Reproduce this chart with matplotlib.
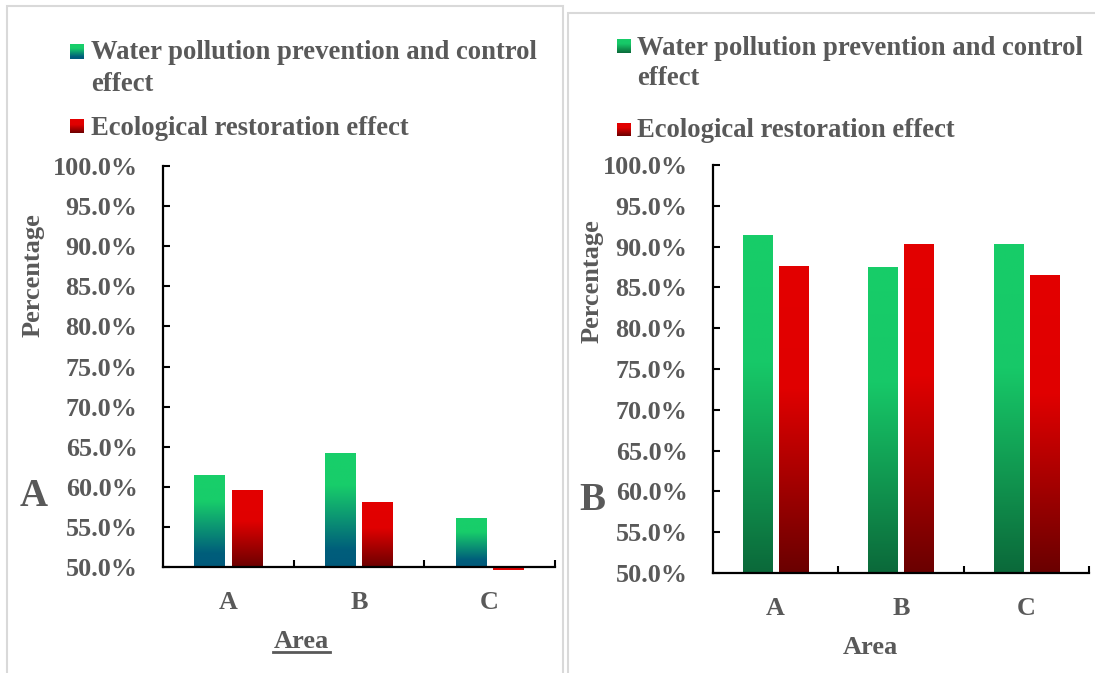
import matplotlib
matplotlib.use("Agg")
import matplotlib.pyplot as plt
import numpy as np
from matplotlib.colors import LinearSegmentedColormap
from matplotlib.patches import Rectangle
from matplotlib.lines import Line2D

plt.rcParams['font.family'] = ['Liberation Serif', 'DejaVu Serif']
plt.rcParams['font.weight'] = 'bold'

# data (percent)
areas = ['A', 'B', 'C']
water_left = [61.4, 64.2, 56.0]
eco_left = [59.5, 58.1, 49.6]
water_right = [91.3, 87.4, 90.3]
eco_right = [87.6, 90.3, 86.5]
ytick_vals = [50.0, 55.0, 60.0, 65.0, 70.0, 75.0, 80.0, 85.0, 90.0, 95.0, 100.0]
legend_labels = ['Water pollution prevention and control', 'effect',
                 'Ecological restoration effect']

W, H = 1095, 673
TXT = '#595959'

# gradient colormaps (bottom -> top)
green_teal = LinearSegmentedColormap.from_list(
    'gt', [(0, '#005a7b'), (0.15, '#005e7b'), (0.72, '#18cd6a'), (1, '#18cf6a')])
red_dark_l = LinearSegmentedColormap.from_list(
    'rl', [(0, '#6c0000'), (0.6, '#e00000'), (1, '#e30000')])
green_dark = LinearSegmentedColormap.from_list(
    'gd', [(0, '#0b693a'), (0.62, '#17c868'), (1, '#17cd69')])
red_dark_r = LinearSegmentedColormap.from_list(
    'rr', [(0, '#6a0000'), (0.6, '#e00000'), (1, '#e30000')])

grad = np.linspace(0, 1, 256).reshape(-1, 1)


def px_axes(x0, y0, x1, y1):
    # pixel box (top-left origin) -> figure axes
    return fig.add_axes([x0 / W, 1 - y1 / H, (x1 - x0) / W, (y1 - y0) / H])


def grad_bar(ax, x, val, width, cmap, base=50.0):
    bar = ax.bar(x, val - base, width, bottom=base, color='none',
                 edgecolor='none', clip_on=False)[0]
    x0 = bar.get_x()
    x1 = x0 + bar.get_width()
    if val >= base:
        data = grad
    else:
        data = np.ones_like(grad)
    im = ax.imshow(data, extent=[x0, x1, min(base, val), max(base, val)],
                   origin='lower', cmap=cmap, vmin=0, vmax=1,
                   aspect='auto', zorder=2)
    im.set_clip_on(False)


def make_panel(box, water, eco, cmap_w, cmap_r):
    ax = px_axes(*box)
    off = 0.143
    bw = 0.235
    for i in range(len(areas)):
        grad_bar(ax, i - off, water[i], bw, cmap_w)
        grad_bar(ax, i + off, eco[i], bw, cmap_r)
    ax.set_xlim(-0.5, 2.5)
    ax.set_ylim(50, 100)
    ax.set_yticks(ytick_vals)
    ax.set_yticklabels(['%.1f%%' % v for v in ytick_vals])
    ax.set_xticks(range(len(areas)))
    ax.set_xticklabels(areas)
    ax.set_xticks([0.5, 1.5, 2.5], minor=True)
    for s in ['top', 'right']:
        ax.spines[s].set_visible(False)
    for s in ['left', 'bottom']:
        ax.spines[s].set_linewidth(1.6)
        ax.spines[s].set_color('black')
    ax.tick_params(axis='y', direction='in', length=5, width=1.5,
                   labelsize=18.8, labelcolor=TXT, pad=18.3)
    ax.tick_params(axis='x', which='major', length=0, labelsize=18.8,
                   labelcolor=TXT, pad=17.5)
    ax.tick_params(axis='x', which='minor', direction='in', length=5, width=1.5)
    ax.set_zorder(1)
    return ax


def legend_block(x_sq, x_txt, sq1, sq2, base1, base2, base3, cmap_w, cmap_r):
    for (y0, y1), cm in [(sq1, cmap_w), (sq2, cmap_r)]:
        lax = px_axes(x_sq, y0, x_sq + 14, y1)
        lax.imshow(grad, origin='lower', cmap=cm, aspect='auto', extent=[0, 1, 0, 1])
        lax.axis('off')
    for txt, b in zip(legend_labels, [base1, base2, base3]):
        fig.text(x_txt / W, 1 - b / H, txt, fontsize=19.2, color=TXT,
                 ha='left', va='baseline')


fig = plt.figure(figsize=(W / 100, H / 100), dpi=100)

# panel frames
fig.add_artist(Rectangle((7 / W, -0.02), (563 - 7) / W, 1.02 - 6 / H,
                         transform=fig.transFigure, fill=False,
                         edgecolor='#d9d9d9', linewidth=1.5))
fig.add_artist(Rectangle((568 / W, -0.02), 0.6, 1.02 - 13 / H,
                         transform=fig.transFigure, fill=False,
                         edgecolor='#d9d9d9', linewidth=1.5))

make_panel((163, 166, 555, 567), water_left, eco_left, green_teal, red_dark_l)
make_panel((713, 165, 1089, 573), water_right, eco_right, green_dark, red_dark_r)

legend_block(70, 91, (44, 59), (119, 133), 59, 91, 135, green_teal, red_dark_l)
legend_block(617, 637, (39, 53), (123, 136), 55, 85, 137, green_dark, red_dark_r)

# axis titles and panel letters
fig.text(33 / W, 1 - 275 / H, 'Percentage', rotation=90, fontsize=19,
         color=TXT, ha='center', va='center')
fig.text(592 / W, 1 - 281 / H, 'Percentage', rotation=90, fontsize=19,
         color=TXT, ha='center', va='center')
fig.text(301.5 / W, 1 - 641 / H, 'Area', fontsize=19, color=TXT,
         ha='center', va='center')
fig.add_artist(Line2D([273 / W, 330 / W], [1 - 651.5 / H, 1 - 651.5 / H],
                      transform=fig.transFigure, color=TXT, linewidth=2))
fig.text(870 / W, 1 - 647 / H, 'Area', fontsize=19, color=TXT,
         ha='center', va='center')
fig.text(33.5 / W, 1 - 496 / H, 'A', fontsize=28, color=TXT,
         ha='center', va='center')
fig.text(592 / W, 1 - 500 / H, 'B', fontsize=28, color=TXT,
         ha='center', va='center')

fig.savefig('out.png', dpi=100)
